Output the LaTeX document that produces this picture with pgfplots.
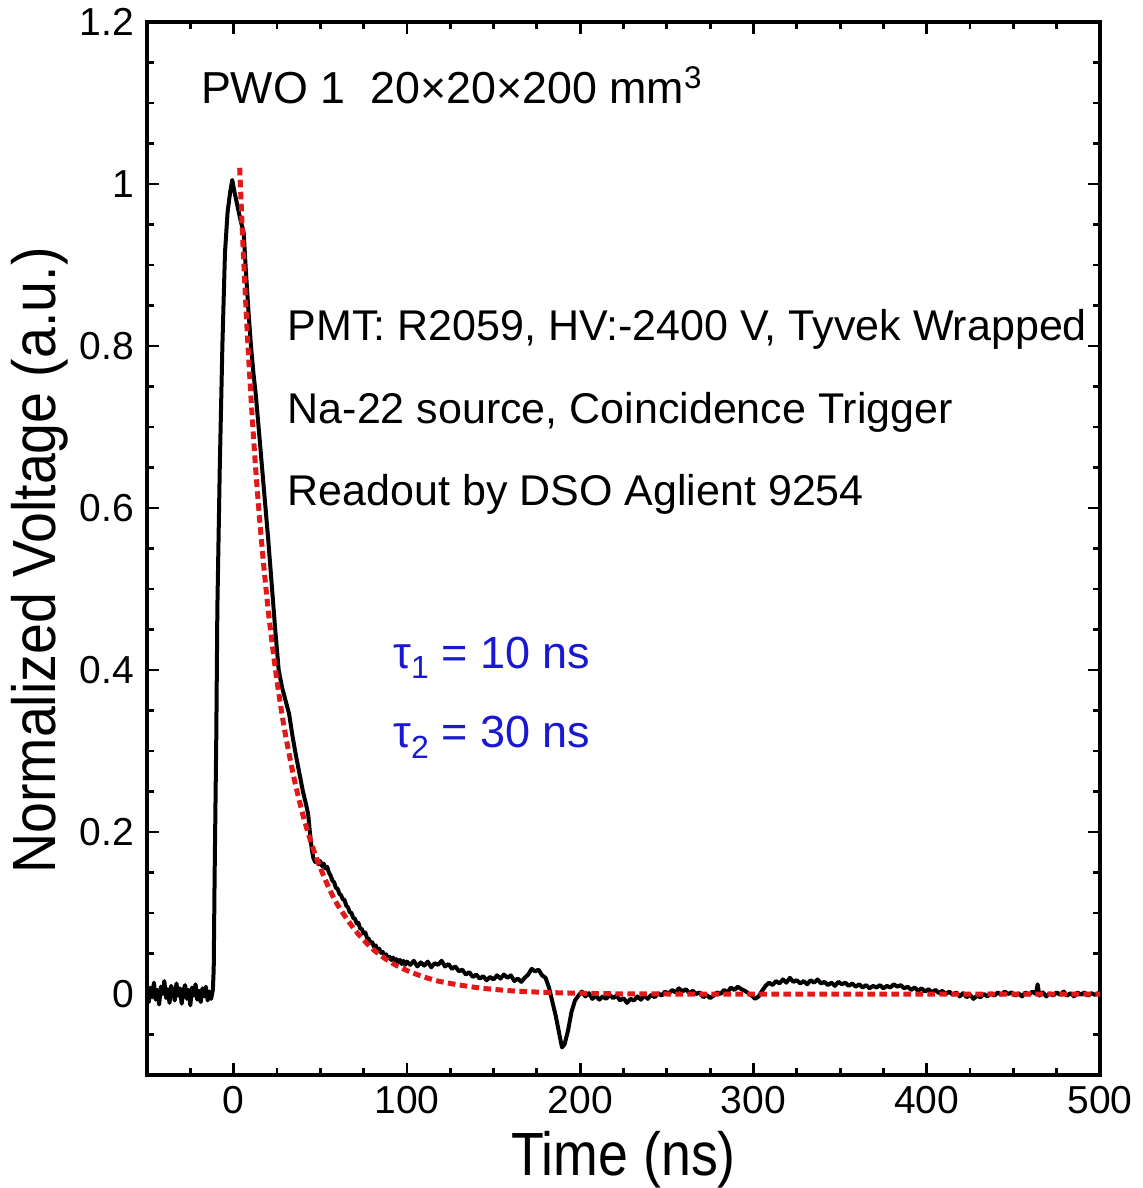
\documentclass[border=0pt]{standalone}
\usepackage{pgfplots}
\pgfplotsset{compat=1.18}
\usepackage{fontspec}
\setmainfont{Liberation Sans}
\definecolor{fitred}{RGB}{225,25,25}
\definecolor{taublue}{RGB}{25,25,210}

\begin{document}
\begin{tikzpicture}
\begin{axis}[
    scale only axis,
    width=476.5pt, height=526.5pt,
    xmin=-50, xmax=500, ymin=-0.1, ymax=1.2,
    xtick={0,100,...,500},
    minor xtick={-25,25,50,75,125,150,175,225,250,275,325,350,375,425,450,475},
    ytick={0,0.2,0.4,0.6,0.8,1,1.2},
    minor ytick={-0.05,0.05,0.1,0.15,0.25,0.3,0.35,0.45,0.5,0.55,0.65,0.7,0.75,0.85,0.9,0.95,1.05,1.1,1.15},
    tick align=inside,
    major tick length=6pt, minor tick length=3.5pt,
    every tick/.style={black, line width=1.4pt},
    axis line style={line width=2pt},
    /pgf/number format/assume math mode=true,
    tick label style={font=\fontsize{19.5}{19.5}\selectfont},
    xticklabel style={yshift=-2pt},
    yticklabel style={xshift=-3pt},
    xlabel={\scalebox{0.88}[1]{Time (ns)}},
    ylabel={\scalebox{0.91}[1]{Normalized Voltage (a.u.)}},
    label style={font=\fontsize{30.5}{30.5}\selectfont},
    xlabel style={yshift=-2pt},
    ylabel style={yshift=-1pt, xshift=-6pt},
    clip=true,
]
% measured pulse
\addplot[black, line width=2pt, line join=round] coordinates {
(-50,0.004) (-49,-0.010) (-48,0.008) (-47,-0.004) (-46,0.014) (-45,-0.007)
(-44,0.005) (-43,-0.013) (-42,0.009) (-41,0.000) (-40,0.016) (-39,-0.005)
(-38,0.006) (-37,-0.011) (-36,0.010) (-35,0.002) (-34,-0.008) (-33,0.013)
(-32,-0.002) (-31,0.007) (-30,-0.012) (-29,0.004) (-28,0.011) (-27,-0.006)
(-26,0.005) (-25,-0.014) (-24,0.008) (-23,-0.002) (-22,0.012) (-21,-0.007)
(-20,0.004) (-19,-0.010) (-18,0.007) (-17,-0.003) (-16,0.009) (-15,-0.008)
(-14,0.003) (-13,-0.006) (-12,0.005)
(-11.5,0.03) (-11,0.14) (-10,0.32) (-9.4,0.475) (-8,0.65) (-6.5,0.80)
(-5,0.915) (-3.5,0.965) (-2,0.99) (-0.8,1.005) (0.5,0.99) (2,0.975)
(4,0.955) (5.8,0.94) (7,0.895) (8.5,0.845) (10,0.800) (11.5,0.765)
(12.7,0.742) (14,0.710) (16,0.660) (18,0.610) (20,0.560) (22,0.505)
(24,0.450) (26,0.400) (28,0.378) (30,0.362) (32,0.346) (34,0.318)
(36,0.294) (38,0.272) (40,0.250) (42,0.232) (43,0.222) (44,0.200)
(45,0.180) (46,0.168)
(47,0.163) (48,0.166) (49,0.160) (50,0.164) (51,0.158) (52,0.161)
(53,0.155) (54,0.157) (55,0.150) (56,0.146) (57,0.140) (58,0.138)
(59,0.131) (60,0.130) (61,0.124) (62,0.122) (63,0.117) (64,0.116)
(65,0.109) (66,0.107) (67,0.101) (68,0.100) (69,0.094) (70,0.093)
(71,0.087) (72,0.088) (73,0.081) (74,0.080) (75,0.075) (76,0.076)
(77,0.069) (78,0.068) (79,0.063) (80,0.064) (81,0.058) (82,0.060)
(83,0.054) (84,0.056) (85,0.051) (86,0.052) (87,0.047) (88,0.049)
(89,0.044) (90,0.046) (91,0.042) (92,0.045) (93,0.040) (94,0.043)
(95,0.039) (96,0.042) (97,0.037) (98,0.041) (99,0.036) (100,0.040)
(102,0.036) (104,0.041) (106,0.034) (108,0.039) (110,0.035) (112,0.040)
(114,0.033) (116,0.038) (118,0.036) (120,0.041) (122,0.034) (124,0.037)
(126,0.031) (128,0.034) (130,0.028) (132,0.030) (134,0.024) (136,0.027)
(138,0.021) (140,0.024) (142,0.019) (144,0.022) (146,0.017) (148,0.021)
(150,0.018) (152,0.023) (154,0.019) (156,0.024) (158,0.020) (160,0.023)
(162,0.016) (164,0.019) (166,0.015) (168,0.020) (170,0.024) (172,0.031)
(174,0.028) (176,0.030) (178,0.023) (180,0.020) (182,0.008) (184,-0.010)
(186,-0.028) (188,-0.050) (189.5,-0.066) (191,-0.062) (193,-0.045) (195,-0.022)
(197,-0.008) (199,-0.002) (201,0.003) (203,-0.003) (205,0.001) (207,-0.006)
(209,-0.002) (211,-0.007) (213,-0.003) (215,-0.006) (217,-0.001) (219,-0.005)
(221,-0.002) (223,-0.008) (225,-0.005) (227,-0.011) (229,-0.006) (231,-0.008)
(233,-0.003) (235,-0.007) (237,-0.002) (239,-0.006) (241,-0.001) (243,-0.004)
(245,0.001) (247,-0.002) (249,0.003) (251,0.000) (253,0.005) (255,0.002)
(257,0.007) (259,0.003) (261,0.006) (263,0.001) (265,0.004) (267,0.000)
(269,0.002) (271,-0.004) (273,-0.001) (275,-0.005) (277,-0.002) (279,0.002)
(281,0.000) (283,0.005) (285,0.002) (287,0.008) (289,0.005) (291,0.009)
(293,0.006) (295,0.004) (297,0.001) (299,-0.002) (301,-0.006) (303,-0.003)
(305,0.004) (307,0.010) (309,0.014) (311,0.011) (313,0.016) (315,0.013)
(317,0.018) (319,0.014) (321,0.020) (323,0.015) (325,0.017) (327,0.013)
(329,0.016) (331,0.012) (333,0.017) (335,0.014) (337,0.018) (339,0.013)
(341,0.015) (343,0.011) (345,0.014) (347,0.010) (349,0.015) (351,0.012)
(353,0.014) (355,0.010) (357,0.013) (359,0.009) (361,0.012) (363,0.008)
(365,0.011) (367,0.007) (369,0.010) (371,0.008) (373,0.011) (375,0.007)
(377,0.010) (379,0.008) (381,0.012) (383,0.009) (385,0.011) (387,0.007)
(389,0.009) (391,0.005) (393,0.008) (395,0.004) (397,0.007) (399,0.003)
(401,0.006) (403,0.002) (405,0.005) (407,0.001) (409,0.004) (411,0.000)
(413,0.003) (415,-0.001) (417,0.002) (419,-0.003) (421,0.001) (423,-0.004)
(425,-0.001) (427,-0.006) (429,-0.002) (431,-0.004) (433,0.000) (435,-0.003)
(437,0.001) (439,-0.002) (441,0.002) (443,-0.001) (445,0.003) (447,0.000)
(449,0.002) (451,-0.002) (453,0.001) (455,-0.003) (457,0.002) (459,-0.001)
(461,0.003) (463,0.000) (464,0.012) (465,-0.002) (467,0.002) (469,-0.003)
(471,0.001) (473,-0.002) (475,0.002) (477,-0.001) (479,0.003) (481,-0.002)
(483,0.001) (485,-0.003) (487,0.002) (489,-0.001) (491,0.002) (493,-0.002)
(495,0.001) (497,-0.001) (499,0.001) (500,0.000)
};
% two-exponential fit
\addplot[fitred, line width=2.5pt, dash pattern=on 3.8pt off 2.2pt, smooth] coordinates {
(3.5,1.02) (5,0.943) (7.5,0.831) (10,0.737) (12.5,0.655) (15,0.586)
(17.5,0.526) (20,0.473) (22.5,0.428) (25,0.387) (27.5,0.351) (30,0.319)
(35,0.265) (40,0.221) (45,0.185) (50,0.156) (55,0.131) (60,0.110)
(70,0.079) (80,0.056) (90,0.040) (100,0.029) (110,0.021) (120,0.015)
(140,0.008) (160,0.004) (180,0.002) (200,0.001) (250,0.0) (500,0.0)
};
\coordinate (bl) at (rel axis cs:0,0);
\node[anchor=west, inner sep=0pt, font=\fontsize{22.4}{22.4}\selectfont] at (axis cs:-19,1.122)
  {PWO 1\ \ 20×20×200 mm\textsuperscript{3}};
\node[anchor=west, inner sep=0pt, font=\fontsize{21.5}{21.5}\selectfont] at (axis cs:31,0.82)
  {PMT: R2059, HV:-2400 V, Tyvek Wrapped};
\node[anchor=west, inner sep=0pt, font=\fontsize{21.5}{21.5}\selectfont] at (axis cs:31,0.718)
  {Na-22 source, Coincidence Trigger};
\node[anchor=west, inner sep=0pt, font=\fontsize{21.5}{21.5}\selectfont] at (axis cs:31,0.617)
  {Readout by DSO Aglient 9254};
\node[anchor=west, inner sep=0pt, text=taublue, font=\fontsize{22.5}{22.5}\selectfont] at (axis cs:92,0.415)
  {τ\raisebox{-0.45ex}{\fontsize{16}{16}\selectfont 1} = 10 ns};
\node[anchor=west, inner sep=0pt, text=taublue, font=\fontsize{22.5}{22.5}\selectfont] at (axis cs:92,0.317)
  {τ\raisebox{-0.45ex}{\fontsize{16}{16}\selectfont 2} = 30 ns};
\end{axis}
\pgfresetboundingbox
\path (bl) ++(-73.5pt,-56.5pt) rectangle ++(571pt,594pt);
\end{tikzpicture}
\end{document}
